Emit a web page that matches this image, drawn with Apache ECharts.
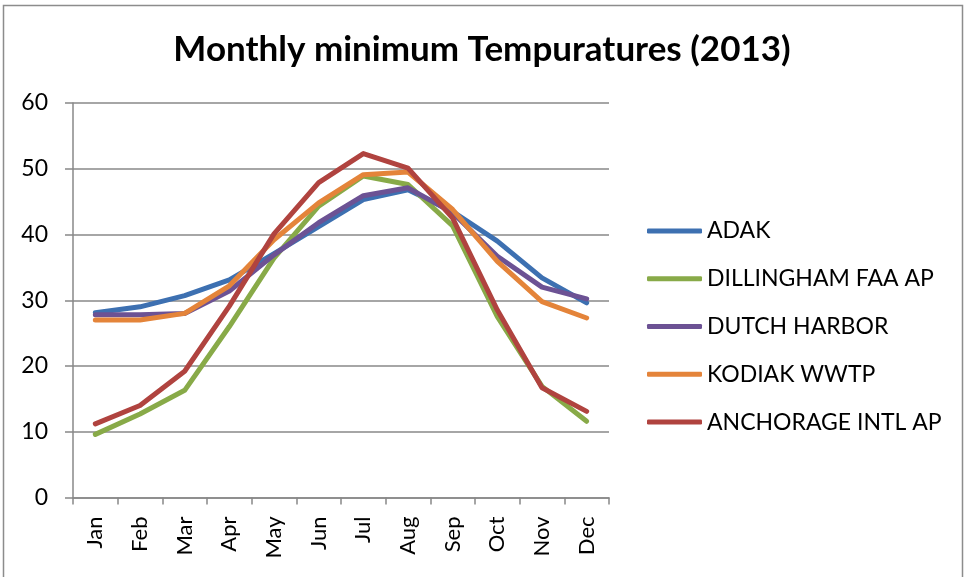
<!DOCTYPE html>
<html>
<head>
<meta charset="utf-8">
<script src="https://cdn.jsdelivr.net/npm/echarts@6/dist/echarts.min.js"></script>
<style>
  html, body { margin: 0; padding: 0; background: #fff; }
  #chart { width: 964px; height: 577px; }
</style>
</head>
<body>
<div id="chart"></div>
<script>
var months = ['Jan', 'Feb', 'Mar', 'Apr', 'May', 'Jun', 'Jul', 'Aug', 'Sep', 'Oct', 'Nov', 'Dec'];
var yTicks = [0, 10, 20, 30, 40, 50, 60];

// values
var adak       = [28.1, 29.0, 30.7, 33.1, 37.1, 41.2, 45.3, 46.8, 43.5, 39.0, 33.4, 29.6];
var dillingham = [9.6, 12.7, 16.3, 26.0, 36.4, 44.3, 48.9, 47.6, 41.3, 27.5, 16.9, 11.6];
var dutch      = [27.8, 27.8, 28.0, 31.4, 36.9, 41.8, 45.9, 47.1, 43.3, 36.7, 32.0, 30.2];
var kodiak     = [27.0, 27.0, 28.0, 32.2, 39.2, 44.8, 49.1, 49.5, 43.8, 35.9, 29.8, 27.3];
var anchorage  = [11.2, 14.0, 19.2, 29.1, 40.1, 47.9, 52.3, 50.1, 42.5, 28.5, 16.7, 13.1];

var names = ['ADAK', 'DILLINGHAM FAA AP', 'DUTCH HARBOR', 'KODIAK WWTP', 'ANCHORAGE INTL AP'];
var colors = ['#3d70b1', '#88aa48', '#6c5294', '#e4843a', '#b0433f'];

(function(){
  var font = 'Lato, "Open Sans", sans-serif';
  var allData = [adak, dillingham, dutch, kodiak, anchorage];

  var series = allData.map(function(d, i){
    return {
      name: names[i],
      type: 'line',
      data: d,
      symbol: 'none',
      lineStyle: { width: 5, color: colors[i], cap: 'round', join: 'round' },
      itemStyle: { color: colors[i] }
    };
  });

  var myChart = echarts.init(document.getElementById('chart'));
  myChart.setOption({
    animation: false,
    color: colors,
    title: {
      text: 'Monthly minimum Tempuratures (2013)',
      left: 'center',
      top: 27,
      textStyle: { fontFamily: font, fontWeight: 'bold', fontSize: 35, color: '#000' }
    },
    legend: {
      orient: 'vertical',
      left: 642,
      top: 212,
      itemWidth: 55,
      itemHeight: 5,
      itemGap: 20,
      icon: 'roundRect',
      data: names,
      textStyle: { fontFamily: font, fontSize: 23, color: '#000', lineHeight: 27.8 }
    },
    grid: { left: 73, right: 355, top: 103, bottom: 79.5 },
    xAxis: {
      type: 'category',
      data: months,
      boundaryGap: true,
      axisLine: { lineStyle: { color: '#888', width: 1.5 } },
      axisTick: { show: true, length: 7, lineStyle: { color: '#888', width: 1.5 } },
      axisLabel: { rotate: 90, margin: 19, fontFamily: font, fontSize: 22, color: '#000' }
    },
    yAxis: {
      type: 'value',
      min: yTicks[0],
      max: yTicks[yTicks.length - 1],
      interval: 10,
      axisLine: { show: true, lineStyle: { color: '#888', width: 1.5 } },
      axisTick: { show: true, length: 8, lineStyle: { color: '#888', width: 1.5 } },
      axisLabel: { margin: 25, fontFamily: font, fontSize: 23, color: '#000' },
      splitLine: { lineStyle: { color: '#888', width: 1.5 } }
    },
    graphic: [{
      type: 'rect',
      shape: { x: 3.5, y: 5.5, width: 959, height: 600 },
      style: { fill: 'none', stroke: '#8c8c8c', lineWidth: 1.5 },
      silent: true
    }],
    series: series
  });
})();
</script>
</body>
</html>
